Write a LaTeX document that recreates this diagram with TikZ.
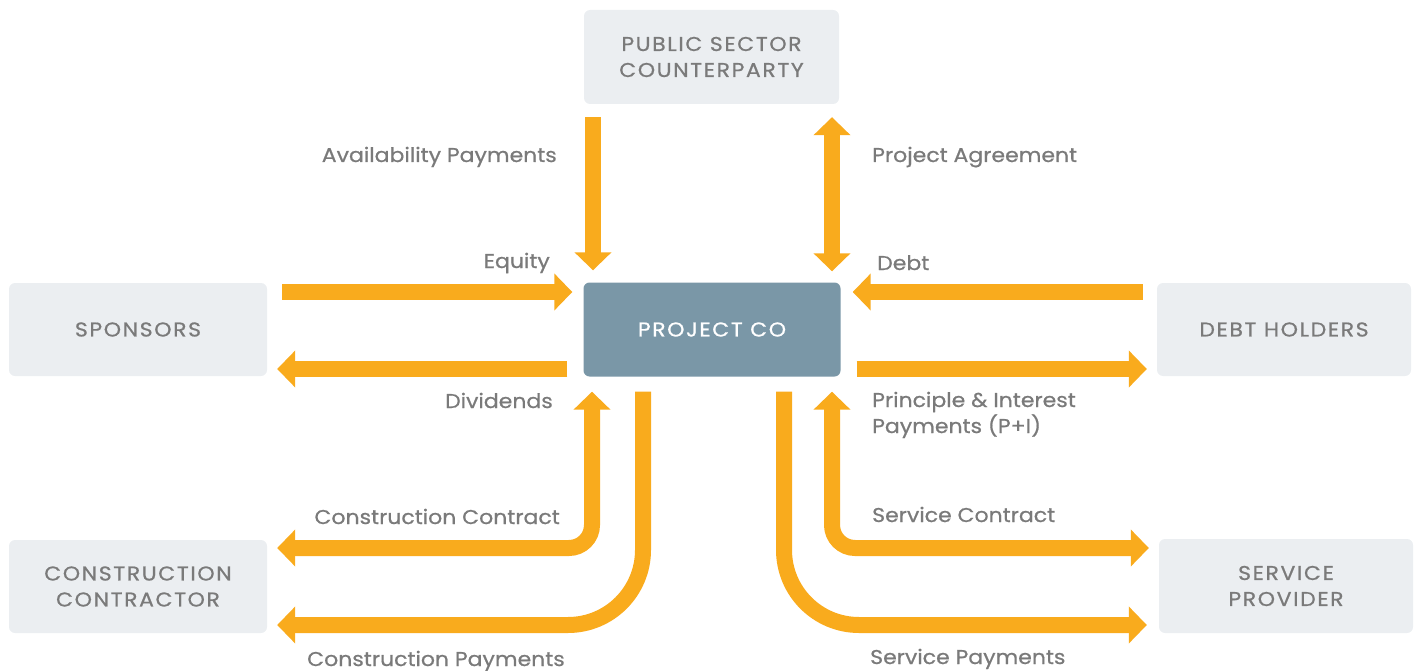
\documentclass[tikz,border=0pt]{standalone}
\usepackage{fontspec}
\setmainfont{Poppins}[FakeStretch=1.1,FakeBold=0.7]
\newfontfamily\capsfont{Poppins}[FakeStretch=1.1,FakeBold=0.7,LetterSpace=8]
\usetikzlibrary{arrows.meta}
\definecolor{arrowc}{HTML}{F9AB1D}
\definecolor{textc}{HTML}{7A7A7A}
\definecolor{boxc}{HTML}{EBEEF1}
\definecolor{projc}{HTML}{7A97A7}
\tikzset{
  ent/.style={draw=none,fill=boxc,rounded corners=6pt,minimum width=#1,text=textc,align=center,
    font=\capsfont\fontsize{20}{26}\selectfont,inner sep=0pt},
  lbl/.style={text=textc,font=\fontsize{20}{26}\selectfont,inner sep=0pt,align=left},
  tip/.tip={Triangle[width=36pt,length=18pt]},
  flow/.style={draw=arrowc,line width=16pt},
}
\begin{document}
\begin{tikzpicture}[x=1pt,y=-1pt]
\useasboundingbox (0,0) rectangle (1418,671);
% entities
\node[ent=255pt,minimum height=94pt] (pub) at (711.5,57) {PUBLIC SECTOR\\COUNTERPARTY};
\node[ent=258pt,minimum height=93pt] (spons) at (138,329.5) {SPONSORS};
\node[ent=257pt,minimum height=94pt,fill=projc,text=white] (proj) at (712,329.5) {PROJECT CO};
\node[ent=254pt,minimum height=93pt] (debt) at (1284,329.5) {DEBT HOLDERS};
\node[ent=258pt,minimum height=93pt] (cons) at (138,586.5) {CONSTRUCTION\\CONTRACTOR};
\node[ent=254pt,minimum height=94pt] (serv) at (1286,586) {SERVICE\\PROVIDER};
% connectors
\coordinate (avS) at ([yshift=-13pt]pub.south -| 593,0);
\coordinate (avE) at ([yshift=12pt]proj.north -| 593,0);
\draw[flow,-tip] (avS) -- (avE);
\coordinate (paS) at ([yshift=-13pt]pub.south -| 832,0);
\coordinate (paE) at ([yshift=11pt]proj.north -| 832,0);
\draw[flow,tip-tip] (paS) -- (paE);
\coordinate (eqS) at ([xshift=15pt]spons.east |- 0,292);
\coordinate (eqE) at ([xshift=-11pt]proj.west |- 0,292);
\draw[flow,-tip] (eqS) -- (eqE);
\coordinate (dvS) at ([xshift=-16pt]proj.west |- 0,369);
\coordinate (dvE) at ([xshift=10pt]spons.east |- 0,369);
\draw[flow,-tip] (dvS) -- (dvE);
\coordinate (dbS) at ([xshift=-14pt]debt.west |- 0,292);
\coordinate (dbE) at ([xshift=12pt]proj.east |- 0,292);
\draw[flow,-tip] (dbS) -- (dbE);
\coordinate (piS) at ([xshift=16pt]proj.east |- 0,369);
\coordinate (piE) at ([xshift=-10pt]debt.west |- 0,369);
\draw[flow,-tip] (piS) -- (piE);
% lower connectors
\coordinate (ccS) at ([yshift=-15pt]proj.south -| 592,0);
\coordinate (ccE) at ([xshift=10pt]cons.east |- 0,548);
\draw[flow,tip-tip,rounded corners=23pt] (ccS) |- (ccE);
\coordinate (cpS) at ([yshift=-15pt]proj.south -| 643,0);
\coordinate (cpE) at ([xshift=10pt]cons.east |- 0,625);
\draw[flow,-tip,rounded corners=75pt] (cpS) |- (cpE);
\coordinate (spS) at ([yshift=-15pt]proj.south -| 784,0);
\coordinate (spE) at ([xshift=-12pt]serv.west |- 0,625);
\draw[flow,-tip,rounded corners=75pt] (spS) |- (spE);
\coordinate (scS) at ([yshift=-15pt]proj.south -| 832,0);
\coordinate (scE) at ([xshift=-10pt]serv.west |- 0,548);
\draw[flow,tip-tip,rounded corners=23pt] (scS) |- (scE);
% labels
\node[lbl,anchor=base east] (lav) at (557,162) {Availability Payments};
\node[lbl,anchor=base west] (lpa) at (872,162) {Project Agreement};
\node[lbl,anchor=base east] (leq) at (550,268) {Equity};
\node[lbl,anchor=base west] (ldb) at (877,270) {Debt};
\node[lbl,anchor=base east] (ldv) at (553,408) {Dividends};
\node[lbl,anchor=base west] (lpi) at (872,433) {Principle \& Interest\\Payments (P+I)};
\node[lbl,anchor=base east] (lcc) at (560,524) {Construction Contract};
\node[lbl,anchor=base west] (lsc) at (872,522) {Service Contract};
\node[lbl,anchor=base west] (lcp) at (307,666) {Construction Payments};
\node[lbl,anchor=base west] (lsp) at (870,664) {Service Payments};
\end{tikzpicture}
\end{document}
